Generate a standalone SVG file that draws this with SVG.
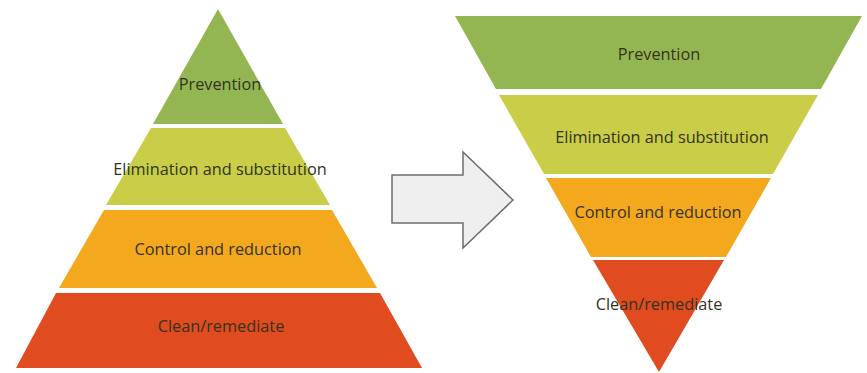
<svg xmlns="http://www.w3.org/2000/svg" width="867" height="373" viewBox="0 0 867 373">
<style>
.lbl{font-family:"Open Sans","Noto Sans","Liberation Sans",sans-serif;font-size:16.3px;fill:#33331f;text-anchor:middle}
.g1{fill:#93b652}
.g2{fill:#c9cd47}
.g3{fill:#f3a81d}
.g4{fill:#e04b1f}
</style>
<rect width="867" height="373" fill="#ffffff"/>
<g id="left-pyramid">
<g id="l-prevention"><polygon class="g1" points="218,9 283,124 153,124"/><text class="lbl" x="220" y="90">Prevention</text></g>
<g id="l-elimination"><polygon class="g2" points="151,128 285,128 330,205 106,205"/><text class="lbl" x="220" y="175">Elimination and substitution</text></g>
<g id="l-control"><polygon class="g3" points="104,210 332,210 377,288 59,288"/><text class="lbl" x="218" y="255">Control and reduction</text></g>
<g id="l-clean"><polygon class="g4" points="56,293 380,293 422,368 16,368"/><text class="lbl" x="221" y="332">Clean/remediate</text></g>
</g>
<g id="connectors">
<polygon points="392,175 463,175 463,152 513,200 463,248 463,223 392,223" fill="#efefef" stroke="#6e6e6e" stroke-width="1.5" stroke-linejoin="miter"/>
</g>
<g id="right-pyramid">
<g id="r-prevention"><polygon class="g1" points="455,16 862,16 821,89 496,89"/><text class="lbl" x="659" y="60">Prevention</text></g>
<g id="r-elimination"><polygon class="g2" points="499,95 818,95 773,174 544,174"/><text class="lbl" x="662" y="143">Elimination and substitution</text></g>
<g id="r-control"><polygon class="g3" points="546,178 771,178 726,257 591,257"/><text class="lbl" x="658" y="218">Control and reduction</text></g>
<g id="r-clean"><polygon class="g4" points="593,260 724,260 659,372"/><text class="lbl" x="659" y="310">Clean/remediate</text></g>
</g>
</svg>
